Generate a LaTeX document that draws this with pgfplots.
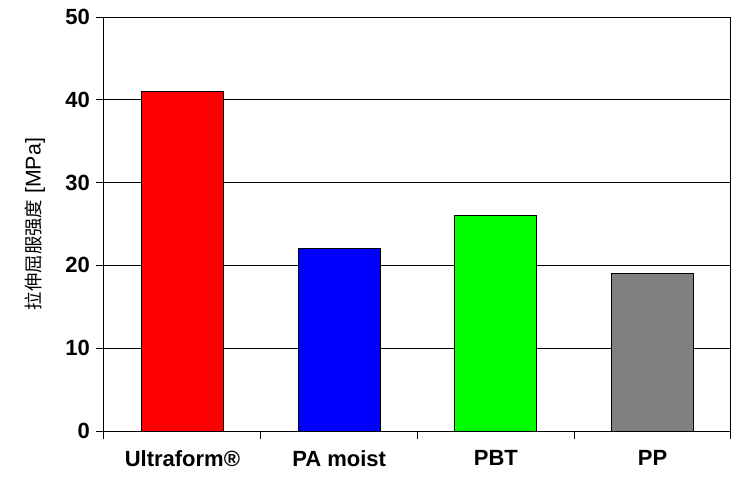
\documentclass[border=0pt]{standalone}
\usepackage{fontspec}
\setmainfont{Liberation Sans}
\newfontfamily\cjk{Noto Sans CJK SC}
\usepackage{pgfplots}
\pgfplotsset{compat=1.18}
\begin{document}
\begin{tikzpicture}
\begin{axis}[
  at={(0,0)}, anchor=south west,
  scale only axis, width=470.25pt, height=310.5pt,
  xmin=-0.5, xmax=3.5, ymin=0, ymax=50,
  ytick={0,10,20,30,40,50},
  xtick={0,1,2,3},
  xticklabels={Ultraform®, PA moist, PBT, PP},
  minor xtick={-0.5,0.5,1.5,2.5,3.5},
  major x tick style={draw=none},
  xtick pos=lower, ytick pos=left,
  tick align=outside,
  major tick length=6pt, minor tick length=6pt,
  tick style={black, line width=0.75pt},
  ymajorgrids, grid style={black, line width=0.75pt},
  axis line style={line width=0.75pt},
  /pgf/number format/assume math mode=true,
  ticklabel style={font=\fontsize{16.5}{19}\selectfont\bfseries},
  xticklabel style={yshift=-5pt},
  yticklabel style={xshift=-1pt},
  every axis y label/.style={at={(axis description cs:-0.110,0.5)}, rotate=90, anchor=center},
  ylabel={{\cjk\fontsize{13.8}{16}\selectfont 拉伸屈服强度}\fontsize{16}{18}\selectfont{} [MPa]},
  bar width=61.5pt,
]
\addplot[ybar, fill={rgb,255:red,255;green,0;blue,0}, draw=black, line width=0.6pt] coordinates {(0,41)};
\addplot[ybar, fill={rgb,255:red,0;green,0;blue,255}, draw=black, line width=0.6pt] coordinates {(1,22)};
\addplot[ybar, fill={rgb,255:red,0;green,255;blue,0}, draw=black, line width=0.6pt] coordinates {(2,26)};
\addplot[ybar, fill={rgb,255:red,128;green,128;blue,128}, draw=black, line width=0.6pt] coordinates {(3,19)};
\end{axis}
\pgfresetboundingbox
\path[use as bounding box] (-78pt,-42pt) rectangle (485.25pt,323.25pt);
\end{tikzpicture}
\end{document}
